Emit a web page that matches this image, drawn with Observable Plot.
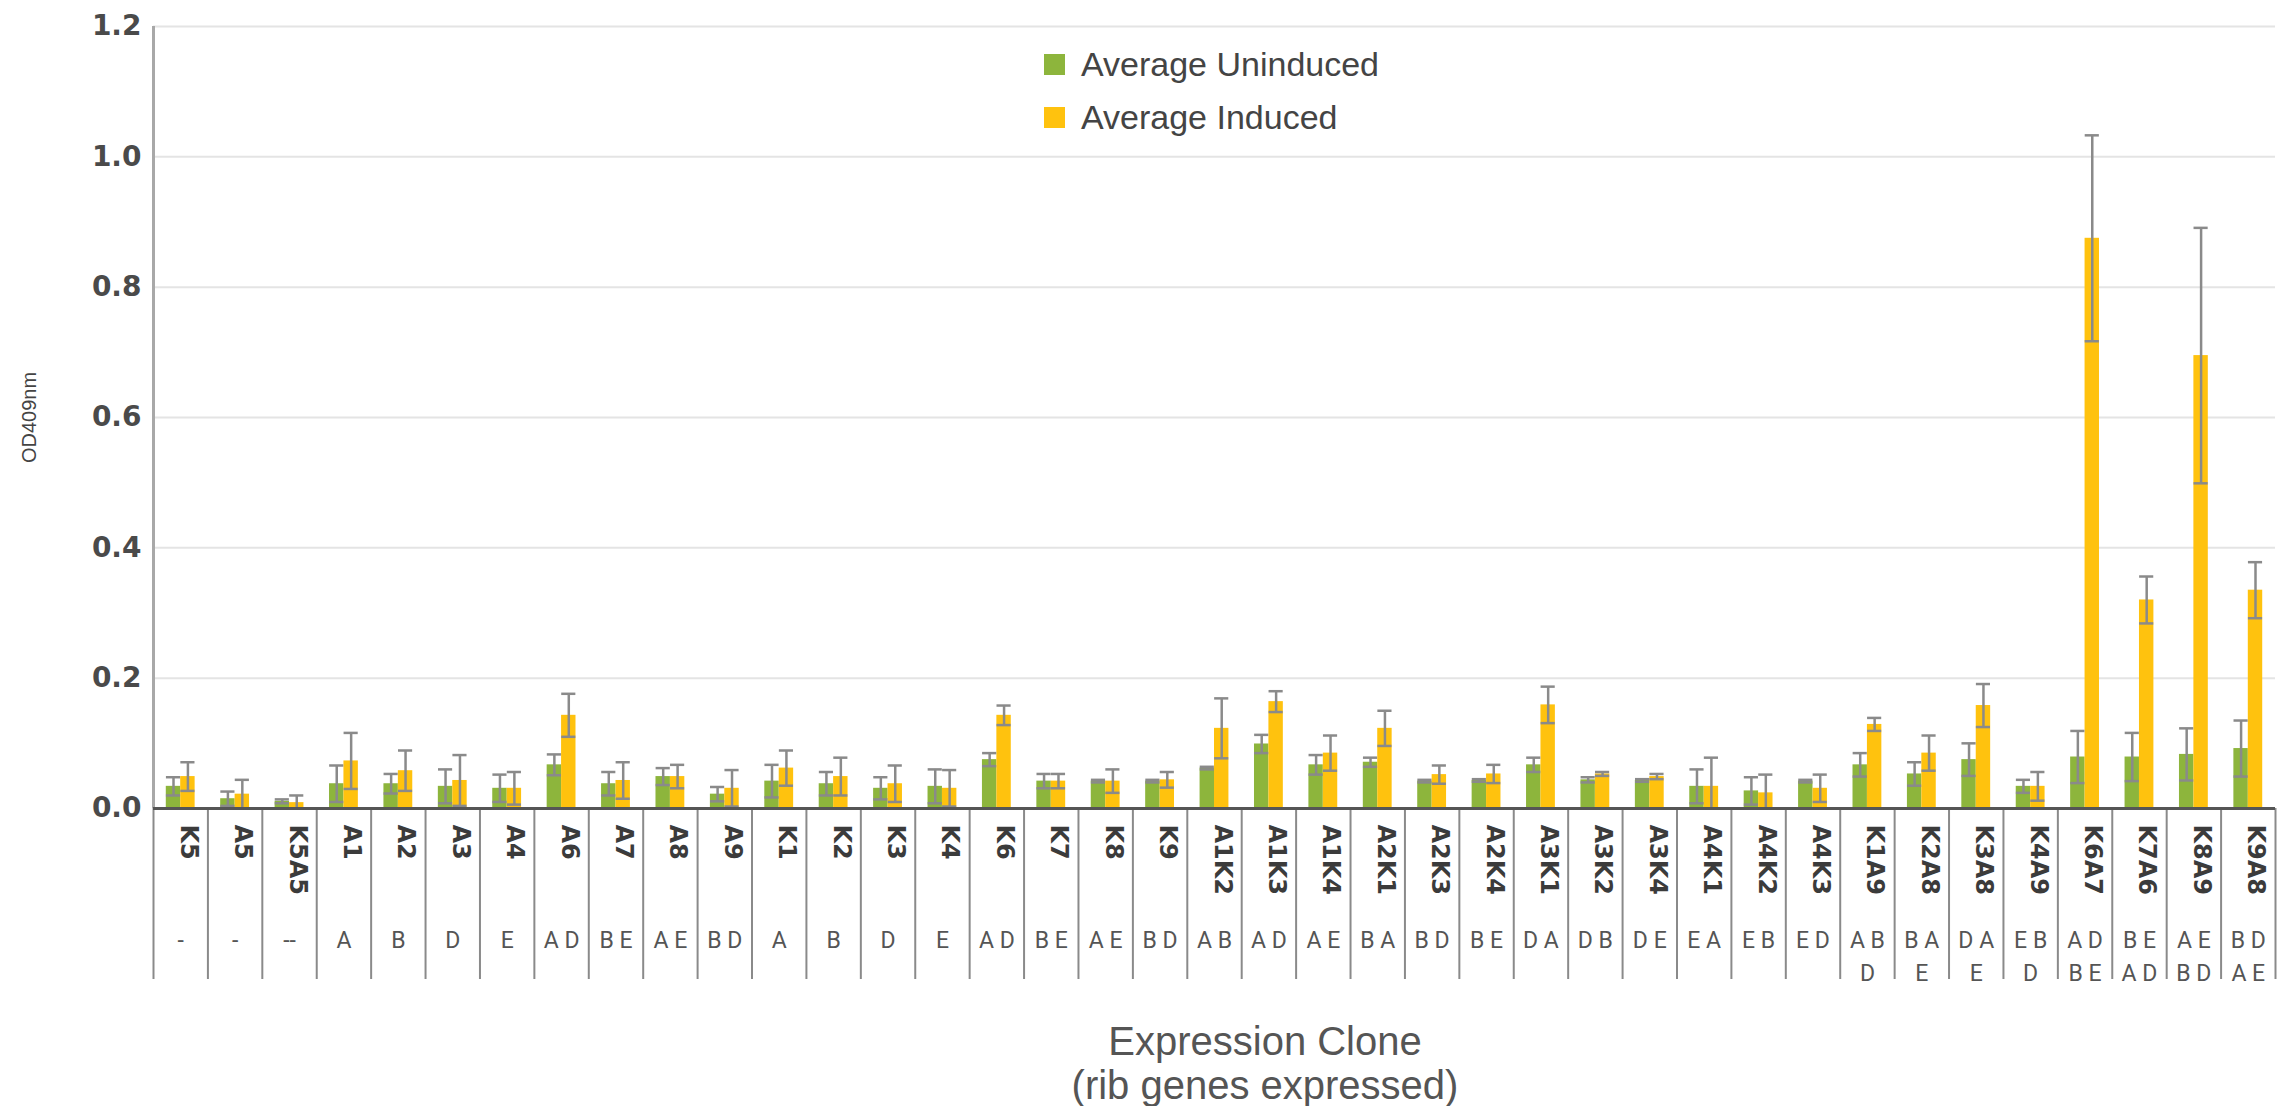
<!DOCTYPE html>
<html>
<head>
<meta charset="utf-8">
<script src="https://cdn.jsdelivr.net/npm/d3@7"></script>
<script src="https://cdn.jsdelivr.net/npm/@observablehq/plot@0.6"></script>
<style>
  body { margin: 0; background: #fff; }
  #wrap { position: relative; width: 2284px; }
  #legend { position: absolute; left: 1044px; top: 38px; font-family: "Liberation Sans", Arial, sans-serif; font-size: 34px; color: #444; }
  #legend .item { display: flex; align-items: center; height: 53px; }
  #legend .sw { width: 21px; height: 21px; margin-right: 16px; }
  #xtitle { margin-top: 19px; padding-left: 246px; text-align: center; font-family: "Liberation Sans", Arial, sans-serif; font-size: 40px; line-height: 44px; color: #555; }
</style>
</head>
<body>
<div id="wrap">
  <div id="chart"></div>
  <div id="legend"></div>
  <div id="xtitle">Expression Clone<br>(rib genes expressed)</div>
</div>
<script>
// ---- data ----
const clones = ["K5","A5","K5A5","A1","A2","A3","A4","A6","A7","A8","A9","K1","K2","K3","K4","K6","K7","K8","K9",
  "A1K2","A1K3","A1K4","A2K1","A2K3","A2K4","A3K1","A3K2","A3K4","A4K1","A4K2","A4K3",
  "K1A9","K2A8","K3A8","K4A9","K6A7","K7A6","K8A9","K9A8"];
const genes = ["-","-","--","A","B","D","E","A D","B E","A E","B D","A","B","D","E","A D","B E","A E","B D",
  "A B","A D","A E","B A","B D","B E","D A","D B","D E","E A","E B","E D",
  "A B\nD","B A\nE","D A\nE","E B\nD","A D\nB E","B E\nA D","A E\nB D","B D\nA E"];
const uninduced = [0.034,0.015,0.011,0.038,0.038,0.034,0.031,0.067,0.038,0.049,0.022,0.042,0.038,0.031,0.034,0.075,0.042,0.042,0.042,
  0.062,0.099,0.067,0.071,0.042,0.043,0.067,0.044,0.043,0.034,0.027,0.042,
  0.067,0.053,0.075,0.034,0.079,0.079,0.083,0.092];
const uninducedErr = [0.014,0.011,0.003,0.028,0.015,0.026,0.021,0.016,0.018,0.013,0.011,0.025,0.018,0.017,0.026,0.010,0.011,0.002,0.002,
  0.002,0.014,0.015,0.007,0.002,0.002,0.011,0.004,0.002,0.026,0.021,0.002,
  0.018,0.018,0.025,0.010,0.040,0.037,0.040,0.043];
const induced = [0.049,0.022,0.009,0.073,0.058,0.043,0.031,0.143,0.043,0.049,0.031,0.062,0.049,0.038,0.031,0.143,0.042,0.042,0.044,
  0.123,0.164,0.085,0.123,0.052,0.053,0.159,0.053,0.049,0.034,0.024,0.031,
  0.129,0.085,0.158,0.034,0.875,0.320,0.695,0.335];
const inducedErr = [0.022,0.022,0.011,0.043,0.031,0.039,0.025,0.033,0.028,0.018,0.028,0.027,0.029,0.028,0.028,0.015,0.011,0.018,0.012,
  0.046,0.016,0.027,0.027,0.014,0.014,0.028,0.003,0.004,0.044,0.028,0.021,
  0.010,0.027,0.033,0.022,0.158,0.036,0.196,0.043];
const seriesNames = ["Average Uninduced", "Average Induced"];
const seriesColors = ["#8DB53C", "#FFC20E"];
const yTicks = [0, 0.2, 0.4, 0.6, 0.8, 1.0, 1.2];

// ---- derived tables ----
const barW = 0.265; // bar width in category units
const rows = clones.flatMap((c, i) => [
  {clone: c, i, series: seriesNames[0], value: uninduced[i], err: uninducedErr[i], x1: i - barW, x2: i},
  {clone: c, i, series: seriesNames[1], value: induced[i], err: inducedErr[i], x1: i, x2: i + barW}
]);
const edges = d3.range(clones.length + 1).map(k => k - 0.5);
const mid = d => (d.x1 + d.x2) / 2;
const errColor = "#8a8a8a";

const chart = Plot.plot({
  width: 2284,
  height: 1000,
  marginLeft: 153,
  marginRight: 9,
  marginTop: 26,
  marginBottom: 192,
  style: {fontFamily: "DejaVu Sans", fontSize: "28px", fontWeight: "bold", color: "#4a4a4a", background: "#fff"},
  x: {domain: [-0.5, clones.length - 0.5], axis: null},
  y: {domain: [0, 1.2], ticks: yTicks, tickFormat: d3.format(".1f"), tickSize: 0, tickPadding: 12, label: null},
  color: {domain: seriesNames, range: seriesColors},
  marks: [
    Plot.ruleY(yTicks.slice(1), {stroke: "#e4e4e4", strokeWidth: 2}),
    Plot.rectY(rows, {x1: "x1", x2: "x2", y: "value", fill: "series"}),
    Plot.ruleX(rows, {x: mid, y1: d => Math.max(0, d.value - d.err), y2: d => d.value + d.err, stroke: errColor, strokeWidth: 2.5}),
    Plot.ruleY(rows, {y: d => d.value + d.err, x1: d => mid(d) - 0.13, x2: d => mid(d) + 0.13, stroke: errColor, strokeWidth: 2.5}),
    Plot.ruleY(rows, {y: d => Math.max(0, d.value - d.err), x1: d => mid(d) - 0.13, x2: d => mid(d) + 0.13, stroke: errColor, strokeWidth: 2.5}),
    Plot.ruleX([-0.5], {stroke: "#a8a8a8", strokeWidth: 3}),
    Plot.ruleX(edges, {x: d => d, y1: 0, y2: 0, insetBottom: -171, stroke: "#8a8a8a", strokeWidth: 2}),
    Plot.ruleY([0], {stroke: "#555", strokeWidth: 3}),
    Plot.text(clones, {x: (d, i) => i, text: d => d, frameAnchor: "bottom", rotate: 90, textAnchor: "start", dy: 16,
      fontFamily: "DejaVu Sans", fontWeight: "bold", fontSize: 24, fill: "#3b3b3b"}),
    Plot.text(genes, {x: (d, i) => i, text: d => d, frameAnchor: "bottom", lineAnchor: "top", dy: 116, lineHeight: 1.43,
      fontFamily: "Roboto", fontWeight: "normal", fontSize: 23, fill: "#555"}),
    Plot.text(["OD409nm"], {text: d => d, frameAnchor: "left", textAnchor: "middle", rotate: -90, dx: -124,
      fontFamily: "Liberation Sans", fontWeight: "normal", fontSize: 20, fill: "#444"})
  ]
});
document.getElementById("chart").appendChild(chart);

// legend
const legend = d3.select("#legend");
seriesNames.forEach((name, k) => {
  const item = legend.append("div").attr("class", "item");
  item.append("div").attr("class", "sw").style("background", seriesColors[k]);
  item.append("span").text(name);
});
</script>
</body>
</html>
